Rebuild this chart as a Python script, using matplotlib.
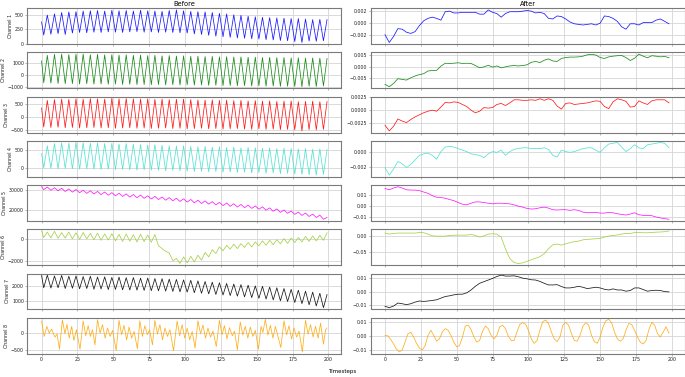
import numpy as np
import matplotlib
matplotlib.use("Agg")
import matplotlib.pyplot as plt
from matplotlib.ticker import FixedLocator

# ---------------- data ----------------
channels = ["Channel 1", "Channel 2", "Channel 3", "Channel 4",
            "Channel 5", "Channel 6", "Channel 7", "Channel 8"]
colors = ["blue", "green", "red", "turquoise", "magenta", "yellowgreen", "black", "orange"]

# "Before": extrema of the period-5 oscillation (start, then trough/peak pairs)
before_t = np.concatenate(([0.0], np.arange(1.5, 200, 2.5)))

ch1_start = 380
ch1_troughs = [150, 165, 175, 160, 185, 195, 190, 200, 195, 205, 200, 195, 205, 210, 200, 205, 195, 200, 195, 190,
               185, 170, 160, 145, 130, 120, 110, 100, 95, 85, 80, 70, 65, 55, 50, 35, 20, 45, 40, 50]
ch1_peaks = [500, 520, 545, 555, 560, 570, 575, 580, 570, 585, 575, 580, 570, 585, 575, 570, 565, 580, 590, 575,
             565, 560, 555, 545, 530, 520, 505, 495, 480, 470, 460, 455, 450, 445, 440, 440, 430, 420, 425, 420]

ch2_start = 1150
ch2_troughs = [-620, -650, -680, -700, -690, -720, -700, -730, -720, -740, -730, -760, -740, -770, -760, -780, -770,
               -790, -780, -800, -790, -810, -800, -830, -820, -850, -840, -860, -850, -880, -870, -890, -880, -910,
               -900, -920, -940, -900, -920, -880]
ch2_peaks = [1600, 1680, 1700, 1660, 1690, 1700, 1650, 1680, 1640, 1660, 1620, 1640, 1600, 1620, 1580, 1600, 1560,
             1580, 1540, 1560, 1520, 1530, 1500, 1510, 1480, 1490, 1460, 1470, 1440, 1450, 1420, 1430, 1410, 1420,
             1390, 1400, 1380, 1390, 1370, 1350]

ch3_start = 350
ch3_troughs = [-380, -400, -390, -410, -400, -420, -410, -400, -420, -410, -430, -420, -410, -430, -420, -440, -430,
               -420, -440, -430, -450, -440, -430, -450, -440, -460, -450, -440, -460, -470, -450, -470, -460, -480,
               -470, -490, -530, -480, -490, -470]
ch3_peaks = [640, 670, 690, 680, 700, 690, 710, 700, 690, 720, 700, 710, 700, 690, 700, 680, 690, 670, 680, 690,
             670, 660, 650, 660, 640, 650, 630, 640, 620, 630, 610, 620, 600, 610, 620, 590, 600, 610, 590, 600]

ch4_start = 400
ch4_troughs = [-10, -20, -30, -20, -30, -40, -30, -40, -50, -40, -60, -50, -60, -70, -60, -70, -80, -90, -80, -90,
               -100, -110, -100, -120, -110, -130, -120, -140, -130, -150, -140, -160, -150, -170, -160, -180, -190,
               -200, -210, -190]
ch4_peaks = [620, 680, 700, 690, 710, 700, 690, 700, 680, 690, 670, 680, 660, 650, 640, 650, 630, 620, 610, 620,
             600, 590, 600, 580, 590, 570, 580, 560, 570, 560, 550, 560, 540, 550, 540, 530, 540, 520, 530, 510]

ch5_start = 31400
ch5_troughs = [30000, 29700, 29400, 29100, 28800, 28500, 28200, 27900, 27600, 27300, 27000, 26700, 26400, 26100,
               25800, 25500, 25200, 24900, 24600, 24300, 24000, 23650, 23300, 23000, 22650, 22300, 21950, 21600,
               21300, 20950, 20550, 20050, 19550, 19050, 18550, 18050, 17550, 17050, 16550, 15700]
ch5_peaks = [31250, 30950, 30650, 30350, 30050, 29750, 29450, 29150, 28850, 28550, 28250, 27950, 27650, 27350,
             27050, 26750, 26450, 26150, 25850, 25550, 25250, 24900, 24550, 24200, 23850, 23550, 23200, 22850,
             22500, 22150, 21700, 21200, 20700, 20200, 19700, 19200, 18700, 18200, 17700, 16600]

ch6_start = 750
ch6_troughs = [150, 120, 80, 100, 40, -20, 30, -60, -100, -80, -150, -200, -180, -250, -220, -280, -600, -1100,
               -1950, -2200, -2150, -2050, -1900, -1600, -1300, -1050, -900, -850, -750, -700, -600, -550, -500,
               -420, -380, -300, -250, -200, -150, -100]
ch6_peaks = [650, 720, 600, 650, 580, 610, 530, 560, 480, 500, 440, 470, 400, 450, 380, 430, -850, -1250, -1750,
             -1600, -1550, -1450, -1200, -950, -700, -550, -450, -400, -300, -250, -150, -100, -50, 50, 100, 150,
             250, 300, 350, 580]

ch7_start = 2750
ch7_troughs = [1900, 1880, 1900, 1850, 1870, 1830, 1850, 1800, 1820, 1780, 1790, 1760, 1750, 1740, 1720, 1700, 1690,
               1670, 1650, 1620, 1600, 1560, 1520, 1480, 1440, 1400, 1360, 1320, 1270, 1220, 1170, 1120, 1060, 1000,
               950, 880, 800, 720, 640, 520]
ch7_peaks = [2780, 2720, 2760, 2700, 2720, 2680, 2700, 2650, 2660, 2620, 2640, 2600, 2610, 2570, 2580, 2540, 2530,
             2500, 2480, 2450, 2420, 2380, 2340, 2290, 2250, 2200, 2160, 2120, 2080, 2030, 2000, 1950, 1900, 1850,
             1790, 1730, 1670, 1600, 1520, 1430]

# Channel 8 (before) has an irregular pattern: extrema times and values
ch8_before_t = [0, 1.8, 3.7, 5.3, 7, 9.3, 10.8, 12.5, 14.5,
                16.3, 17.7, 19.3, 21, 22.5, 24.3, 26.8, 29,
                30.8, 32.5, 34, 35.5, 37.2, 39,
                40.8, 42.5, 44.3, 46, 47.8, 49.5, 52, 54,
                55.8, 57.5, 59.3, 61, 62.8, 64.5, 66.8, 68.5,
                70.3, 72, 73.8, 75.3, 77.3, 79,
                80.8, 82.5, 84.3, 86, 87.8, 89.5, 92, 94.5,
                96.3, 98, 99.8, 101.5, 103.3, 105, 107, 109,
                110.8, 112.5, 114.3, 116, 117.8, 119.5, 121.8, 124,
                125.8, 127.5, 129.3, 131, 133, 134.5, 136.5, 138.5,
                140.3, 142, 143.8, 145.5, 147.3, 149, 151.2, 153, 154.3, 156,
                157.8, 159.5, 161.3, 163, 166.8, 169,
                170.8, 172.5, 174.3, 176, 177.8, 179.5, 181.8, 184,
                185.8, 187.5, 189.3, 191, 192.8, 194.5, 196.5, 198, 199]
ch8_before_v = [360, -100, 200, 0, 120, -120, -30, -480, 390,
                -20, 260, -150, 200, -220, 100, -480, 360,
                -80, 220, -100, 100, -350, 400,
                0, 250, -150, 150, -100, 80, -520, 380,
                -50, 230, -200, 180, -150, 50, -470, 370,
                -100, 220, -50, 100, -350, 380,
                -30, 250, -200, 150, -100, 100, -530, 360,
                -80, 250, -150, 150, -200, 50, -450, 370,
                -20, 240, -150, 150, -120, 60, -400, 380,
                -50, 220, -170, 160, -80, 60, -500, 330,
                -60, 200, -150, 180, -100, 80, -480, 200, 20, 410,
                -60, 230, -150, 200, -430, 370,
                -50, 220, -180, 150, -120, 60, -560, 380,
                -30, 250, -120, 200, -150, 300, -330, 100, 150]

# "After": smooth curves sampled every 3 steps (channel 8 every 2 steps)
after_t = np.arange(0, 199, 3)
after8_t = np.arange(0, 199, 2)

a1 = [-0.0019, -0.0032, -0.0022, -0.0009, -0.0010, -0.0015, -0.0017, -0.0014, -0.0004, 0.0004, 0.0008, 0.0010,
      0.0008, 0.0005, 0.0019, 0.0020, 0.0017, 0.0017, 0.0018, 0.0018, 0.0018, 0.0018, 0.0015, 0.0015, 0.0022,
      0.0018, 0.0016, 0.0010, 0.0016, 0.0019, 0.0019, 0.0019, 0.0020, 0.0021, 0.0020, 0.0017, 0.0018, 0.0016,
      0.0008, 0.0007, 0.0012, 0.0011, 0.0007, 0.0002, -0.0001, -0.0002, -0.0003, -0.0002, -0.0001, -0.0003,
      0.0000, 0.0012, 0.0011, 0.0008, 0.0003, -0.0006, -0.0010, -0.0001, -0.0001, -0.0003, 0.0001, 0.0001,
      0.0001, 0.0005, 0.0007, 0.0003, -0.0001]
a2 = [-0.0077, -0.0087, -0.0073, -0.0052, -0.0055, -0.0058, -0.0048, -0.0040, -0.0034, -0.0030, -0.0018, -0.0016,
      -0.0015, 0.0003, 0.0016, 0.0015, 0.0016, 0.0018, 0.0015, 0.0016, 0.0015, 0.0006, -0.0004, 0.0000, 0.0007,
      -0.0001, 0.0004, -0.0004, 0.0000, 0.0004, 0.0006, 0.0004, 0.0006, 0.0009, 0.0020, 0.0024, 0.0019, 0.0029,
      0.0035, 0.0026, 0.0024, 0.0037, 0.0041, 0.0043, 0.0043, 0.0044, 0.0047, 0.0053, 0.0055, 0.0052, 0.0041,
      0.0037, 0.0044, 0.0047, 0.0049, 0.0050, 0.0041, 0.0028, 0.0038, 0.0056, 0.0047, 0.0040, 0.0049, 0.0047,
      0.0044, 0.0046, 0.0040]
a3 = [-0.0030, -0.0041, -0.0032, -0.0018, -0.0022, -0.0025, -0.0019, -0.0014, -0.0010, -0.0006, -0.0003, -0.0001,
      -0.0003, 0.0005, 0.0014, 0.0013, 0.0015, 0.0014, 0.0010, 0.0006, -0.0001, -0.0006, -0.0003, 0.0004, 0.0003,
      0.0004, 0.0010, 0.0012, 0.0008, 0.0013, 0.0019, 0.0019, 0.0018, 0.0018, 0.0019, 0.0018, 0.0021, 0.0018,
      0.0021, 0.0018, 0.0007, 0.0001, 0.0012, 0.0013, 0.0010, 0.0011, 0.0012, 0.0013, 0.0015, 0.0017, 0.0016,
      0.0006, 0.0002, 0.0015, 0.0021, 0.0019, 0.0016, 0.0005, 0.0006, 0.0017, 0.0013, 0.0010, 0.0017, 0.0019,
      0.0019, 0.0019, 0.0013]
a4 = [-0.0021, -0.0031, -0.0023, -0.0013, -0.0016, -0.0021, -0.0017, -0.0011, -0.0005, -0.0003, -0.0002, -0.0005,
      -0.0010, 0.0000, 0.0006, 0.0007, 0.0006, 0.0004, 0.0002, 0.0000, -0.0003, -0.0004, -0.0005, -0.0008, -0.0003,
      0.0000, -0.0001, 0.0002, -0.0005, 0.0000, 0.0003, 0.0004, 0.0005, 0.0005, 0.0004, 0.0004, 0.0004, 0.0005,
      0.0003, -0.0005, -0.0007, 0.0002, 0.0000, -0.0001, 0.0000, 0.0002, 0.0004, 0.0005, 0.0005, 0.0002, -0.0001,
      0.0005, 0.0010, 0.0011, 0.0012, 0.0006, 0.0000, 0.0004, 0.0009, 0.0005, 0.0004, 0.0009, 0.0010, 0.0011,
      0.0012, 0.0011, 0.0005]
a5 = [0.0160, 0.0148, 0.0164, 0.0176, 0.0164, 0.0148, 0.0145, 0.0145, 0.0140, 0.0127, 0.0115, 0.0094, 0.0079,
      0.0076, 0.0070, 0.0058, 0.0048, 0.0030, 0.0015, 0.0009, 0.0024, 0.0036, 0.0036, 0.0030, 0.0024, 0.0018,
      0.0024, 0.0024, 0.0021, 0.0018, 0.0009, -0.0003, -0.0012, -0.0024, -0.0030, -0.0027, -0.0018, -0.0012,
      -0.0021, -0.0036, -0.0039, -0.0036, -0.0036, -0.0042, -0.0036, -0.0042, -0.0058, -0.0064, -0.0061, -0.0061,
      -0.0067, -0.0067, -0.0061, -0.0064, -0.0073, -0.0079, -0.0085, -0.0076, -0.0064, -0.0082, -0.0088, -0.0088,
      -0.0091, -0.0103, -0.0112, -0.0118, -0.0124]
a6 = [0.011, 0.0076, 0.0098, 0.011, 0.011, 0.011, 0.011, 0.011, 0.013, 0.012, 0.0076, 0.002, 0.001, 0.001, 0.001,
      0.0033, 0.004, 0.0043, 0.0043, 0.0043, 0.0065, 0.0033, -0.002, 0.002, 0.0076, 0.0087, 0.0076, -0.002, -0.040,
      -0.072, -0.085, -0.088, -0.086, -0.081, -0.076, -0.071, -0.066, -0.056, -0.040, -0.027, -0.025, -0.028,
      -0.024, -0.020, -0.017, -0.015, -0.011, -0.0095, -0.0085, -0.0076, -0.006, -0.002, 0.0015, 0.003, 0.005,
      0.008, 0.0098, 0.010, 0.0125, 0.013, 0.012, 0.012, 0.013, 0.014, 0.0145, 0.0155, 0.018]
a7 = [-0.0106, -0.0116, -0.0104, -0.0082, -0.0087, -0.0094, -0.0087, -0.0075, -0.0067, -0.0070, -0.0067, -0.0063,
      -0.0058, -0.0046, -0.0034, -0.0029, -0.0022, -0.0017, -0.0017, -0.0007, 0.0014, 0.0041, 0.0063, 0.0075,
      0.0087, 0.0099, 0.0113, 0.0123, 0.0116, 0.0116, 0.0118, 0.0111, 0.0101, 0.0096, 0.0089, 0.0087, 0.0077,
      0.0063, 0.0051, 0.0051, 0.0053, 0.0039, 0.0029, 0.0029, 0.0034, 0.0041, 0.0034, 0.0024, 0.0029, 0.0034,
      0.0029, 0.0019, 0.0014, 0.0022, 0.0014, 0.0014, 0.0005, 0.0010, 0.0029, 0.0029, 0.0017, 0.0005, 0.0010,
      0.0012, 0.0010, 0.0002, 0.0000]
a8 = [0.0005, 0.0002, -0.0025, -0.0057, -0.0094, -0.0114, -0.0101, -0.0044, 0.0017, 0.0027,
      -0.0007, -0.0052, -0.0086, -0.0101, -0.0069, 0.0005, 0.0042, 0.0005, -0.0037, -0.0020,
      0.0030, 0.0054, 0.0042, 0.0005, -0.0044, -0.0077, -0.0069, -0.0007, 0.0072, 0.0079,
      0.0047, -0.0007, -0.0044, -0.0032, 0.0035, 0.0072, 0.0054, 0.0005, -0.0020, 0.0005,
      0.0067, 0.0079, 0.0054, -0.0002, -0.0032, -0.0032, 0.0030, 0.0084, 0.0096, 0.0086,
      0.0042, -0.0020, -0.0052, -0.0032, 0.0042, 0.0104, 0.0116, 0.0091, 0.0030, -0.0020,
      -0.0040, -0.0007, 0.0079, 0.0099, 0.0079, 0.0017, -0.0032, -0.0037, 0.0005, 0.0072,
      0.0096, 0.0079, 0.0005, -0.0040, -0.0052, -0.0007, 0.0067, 0.0111, 0.0121, 0.0096,
      0.0030, -0.0020, -0.0037, -0.0020, 0.0042, 0.0091, 0.0084, 0.0042, -0.0007, -0.0044,
      -0.0057, -0.0032, 0.0047, 0.0099, 0.0079, 0.0017, -0.0007, 0.0030, 0.0067, 0.0020]

before_yticks = [[0, 250, 500], [-1000, 0, 1000], [-500, 0, 500], [0, 500],
                 [20000, 30000], [-2000, 0], [1000, 2000], [-500, 0]]
after_yticks = [[-0.002, 0.0, 0.002], [-0.005, 0.0, 0.005], [-0.0025, 0.0, 0.0025], [-0.002, 0.0],
                [-0.01, 0.0, 0.01], [-0.05, 0.0], [-0.01, 0.0, 0.01], [-0.01, 0.0, 0.01]]
xticks = [0, 25, 50, 75, 100, 125, 150, 175, 200]


def interleave(start, troughs, peaks):
    out = [start]
    for tr, pk in zip(troughs, peaks):
        out.extend([tr, pk])
    return out


before_series = [
    (before_t, interleave(ch1_start, ch1_troughs, ch1_peaks)),
    (before_t, interleave(ch2_start, ch2_troughs, ch2_peaks)),
    (before_t, interleave(ch3_start, ch3_troughs, ch3_peaks)),
    (before_t, interleave(ch4_start, ch4_troughs, ch4_peaks)),
    (before_t, interleave(ch5_start, ch5_troughs, ch5_peaks)),
    (before_t, interleave(ch6_start, ch6_troughs, ch6_peaks)),
    (before_t, interleave(ch7_start, ch7_troughs, ch7_peaks)),
    (ch8_before_t, ch8_before_v),
]
after_series = [(after_t, a1), (after_t, a2), (after_t, a3), (after_t, a4),
                (after_t, a5), (after_t, a6), (after_t, a7), (after8_t, a8)]

# ---------------- layout ----------------
W, H = 685, 377
fig = plt.figure(figsize=(W / 100, H / 100), dpi=100)
col_x0 = [27.3, 370.7]
ax_w = 314.0
top0, pitch, ax_h = 8.3, 44.2, 35.8

spine_col = "#7a7a7a"
for i in range(8):
    for j in range(2):
        ax = fig.add_axes([col_x0[j] / W, 1 - (top0 + i * pitch + ax_h) / H, ax_w / W, ax_h / H])
        t, v = (before_series if j == 0 else after_series)[i]
        ax.plot(t, v, color=colors[i], lw=0.55, alpha=0.9)
        ax.set_xlim(-9.95, 208.95)
        ax.xaxis.set_major_locator(FixedLocator(xticks))
        ax.set_yticks((before_yticks if j == 0 else after_yticks)[i])
        ax.grid(True, color="#d5d5d5", lw=0.6)
        ax.set_axisbelow(True)
        for s in ax.spines.values():
            s.set_color(spine_col)
            s.set_linewidth(0.8)
        ax.tick_params(axis="both", labelsize=3.4, length=1.4, width=0.4, pad=1.0,
                       color=spine_col, labelcolor="#222222")
        if i < 7:
            ax.tick_params(axis="x", labelbottom=False)
        if j == 0:
            ax.set_ylabel(channels[i], fontsize=3.4, labelpad=1.5, color="#222222")
        if i == 0:
            ax.set_title("Before" if j == 0 else "After", fontsize=4.8, pad=1.5)

fig.text(0.5, (H - 372) / H, "Timesteps", ha="center", va="center", fontsize=4.0)
fig.savefig("out.png", dpi=100)
